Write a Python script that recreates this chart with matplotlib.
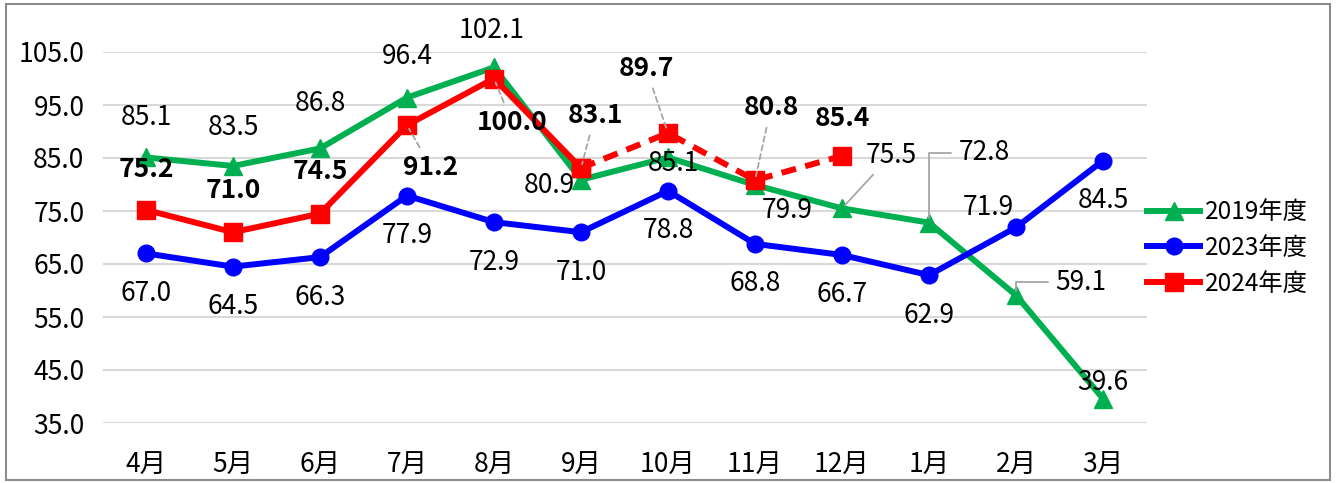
import numpy as np
import matplotlib
matplotlib.use("Agg")
import matplotlib.pyplot as plt
from matplotlib.patches import Rectangle

plt.rcParams['font.family'] = ['Noto Sans CJK JP', 'DejaVu Sans']

months = ["4月", "5月", "6月", "7月", "8月", "9月", "10月", "11月", "12月", "1月", "2月", "3月"]
v2019 = [85.1, 83.5, 86.8, 96.4, 102.1, 80.9, 85.1, 79.9, 75.5, 72.8, 59.1, 39.6]
v2023 = [67.0, 64.5, 66.3, 77.9, 72.9, 71.0, 78.8, 68.8, 66.7, 62.9, 71.9, 84.5]
v2024 = [75.2, 71.0, 74.5, 91.2, 100.0, 83.1, 89.7, 80.8, 85.4]
yticks = [35, 45, 55, 65, 75, 85, 95, 105]

GREEN, BLUE, RED = "#00B050", "#0000FF", "#FF0000"
FS = 19

# label offsets in pixels (dx, dy) and leader style
off2019 = [(0, 40), (0, 38), (0, 45), (0, 41), (-2, 37), (-32, -6), (5, -6), (32, -25),
           (49, 53), (55, 70), (65, 13), (0, 16)]
lead2019 = {8: "straight", 9: "elbow", 10: "elbow"}
off2023 = [(0, -40)] * 10 + [(-28, 20), (0, -40)]
off2024 = [(0, 40), (0, 42), (0, 42), (24, -42), (18, -44), (14, 53), (-22, 65), (16, 73), (0, 37)]
lead2024 = {3, 4, 5, 6, 7}

W, H = 1336, 483
fig = plt.figure(figsize=(W / 100, H / 100), dpi=100)
ax = fig.add_axes([102.5 / W, 60 / H, (1146.5 - 102.5) / W, (423 - 52) / H])
x = np.arange(len(months))

ax.plot(x, v2019, color=GREEN, lw=4.3, marker="^", ms=13, solid_joinstyle="round",
        label="2019年度", zorder=3)
ax.plot(x, v2023, color=BLUE, lw=4.3, marker="o", ms=12, solid_joinstyle="round",
        label="2023年度", zorder=4)
x24 = x[:len(v2024)]
ax.plot(x24[:6], v2024[:6], color=RED, lw=4.3, marker="s", ms=13, solid_joinstyle="round",
        label="2024年度", zorder=5)
ax.plot(x24[5:], v2024[5:], color=RED, lw=4.3, ls=(0, (2.5, 1.6)), marker="s", ms=13,
        zorder=5)

ax.set_xlim(-0.5, len(months) - 0.5)
ax.set_ylim(35, 105)
ax.set_yticks(yticks)
ax.set_yticklabels([f"{t:.1f}" for t in yticks])
ax.set_xticks(x)
ax.set_xticklabels(months)
ax.tick_params(axis="y", length=0, pad=13, labelsize=FS)
ax.tick_params(axis="x", length=0, pad=21, labelsize=FS)
ax.grid(axis="y", color="#d9d9d9", lw=1.5)
ax.set_axisbelow(True)
for s in ax.spines.values():
    s.set_visible(False)

def put(vals, offs, weight, leads, lead_style):
    for i, (v, (dx, dy)) in enumerate(zip(vals, offs)):
        kw = {}
        if i in leads:
            st = leads[i] if isinstance(leads, dict) else lead_style
            ap = dict(arrowstyle="-", color="#a6a6a6", lw=1.3, shrinkA=3, shrinkB=3)
            if st == "dashed":
                ap["ls"] = (0, (3, 2))
            if st == "elbow":
                ap["connectionstyle"] = "angle,angleA=0,angleB=90,rad=0"
            kw["arrowprops"] = ap
        ax.annotate(f"{v:.1f}", xy=(i, v), xytext=(dx, dy), textcoords="offset pixels",
                    ha="center", va="center", fontsize=FS, fontweight=weight,
                    color="black", zorder=6, annotation_clip=False, **kw)

put(v2019, off2019, "normal", lead2019, None)
put(v2023, off2023, "normal", {}, None)
put(v2024, off2024, "bold", lead2024, "dashed")

for ln in ax.lines:
    ln.set_clip_on(False)

fig.legend(loc="center left", bbox_to_anchor=(1147 / W, 1 - 248 / H), frameon=False,
           fontsize=17.5, handlelength=2.2, labelspacing=0.4, handletextpad=0.2,
           borderaxespad=0, borderpad=0)

fig.patches.append(Rectangle((6 / W, 3 / H), (1330 - 6) / W, (479 - 3) / H,
                             transform=fig.transFigure, fill=False,
                             edgecolor="#8c8c8c", lw=1.5))

fig.savefig("out.png", dpi=100)
